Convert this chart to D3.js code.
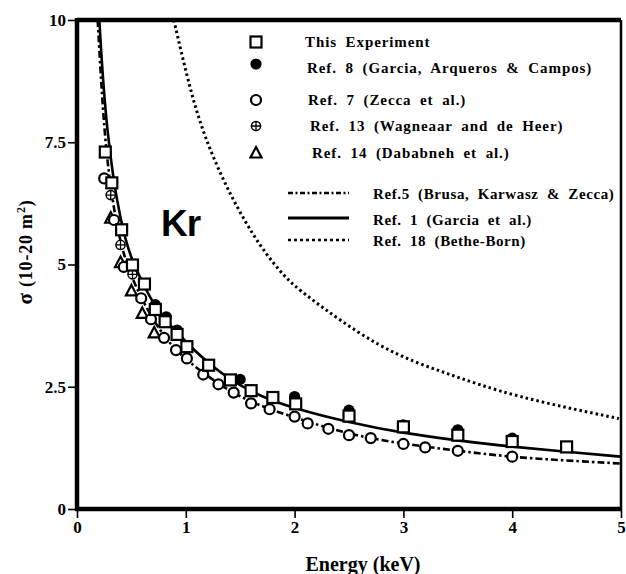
<!DOCTYPE html>
<html>
<head>
<meta charset="utf-8">
<script src="https://cdn.jsdelivr.net/npm/d3@7"></script>
<style>
  body { margin: 0; background: #fff; }
  svg text { font-weight: bold; fill: #000; }
</style>
</head>
<body>
<div id="chart"></div>
<script>
// This Experiment (squares)
var exp_e = [0.26, 0.32, 0.41, 0.51, 0.62, 0.72, 0.81, 0.92, 1.01, 1.21, 1.41, 1.60, 1.80, 2.01, 2.50, 3.00, 3.50, 4.00, 4.50];
var exp_s = [7.30, 6.67, 5.71, 4.99, 4.60, 4.08, 3.83, 3.57, 3.32, 2.94, 2.64, 2.42, 2.28, 2.15, 1.90, 1.68, 1.51, 1.38, 1.27];

// Ref. 8 (filled circles)
var ref8_e = [0.72, 0.82, 0.92, 1.50, 2.00, 2.50, 3.00, 3.50, 4.00];
var ref8_s = [4.18, 3.93, 3.66, 2.65, 2.30, 2.02, 1.72, 1.62, 1.45];

// Ref. 7 (open circles)
var ref7_e = [0.25, 0.34, 0.43, 0.59, 0.68, 0.80, 0.91, 1.01, 1.16, 1.30, 1.44, 1.60, 1.77, 2.00, 2.12, 2.31, 2.50, 2.70, 3.00, 3.20, 3.50, 4.00];
var ref7_s = [6.76, 5.91, 4.95, 4.31, 3.88, 3.50, 3.25, 3.08, 2.75, 2.55, 2.38, 2.16, 2.04, 1.89, 1.75, 1.64, 1.51, 1.45, 1.33, 1.26, 1.19, 1.07];

// Ref. 13 (crossed circles)
var ref13_e = [0.31, 0.40, 0.51];
var ref13_s = [6.42, 5.40, 4.80];

// Ref. 14 (triangles)
var ref14_e = [0.31, 0.40, 0.50, 0.60, 0.71];
var ref14_s = [5.95, 5.04, 4.46, 4.00, 3.60];

// curves
var garcia_e = [0.205, 0.266, 0.40, 0.51, 0.60, 0.71, 0.92, 1.23, 1.61, 2.00, 2.50, 3.00, 3.50, 4.00, 4.50, 5.00];
var garcia_s = [10, 7.75, 5.80, 5.05, 4.65, 4.14, 3.59, 2.91, 2.36, 2.05, 1.77, 1.55, 1.40, 1.27, 1.17, 1.07];

var brusa_e = [0.19, 0.25, 0.33, 0.43, 0.60, 0.80, 1.00, 1.30, 1.60, 2.00, 2.50, 3.00, 3.50, 4.00, 4.50, 5.00];
var brusa_s = [10, 7.60, 6.20, 5.10, 4.25, 3.50, 3.05, 2.55, 2.17, 1.87, 1.52, 1.33, 1.19, 1.06, 0.99, 0.93];

var bethe_e = [0.89, 1.02, 1.16, 1.41, 1.69, 1.92, 2.06, 2.79, 3.40, 4.01, 4.98];
var bethe_s = [10, 8.75, 7.65, 6.39, 5.33, 4.72, 4.44, 3.25, 2.77, 2.30, 1.85];

var x_ticks = [0, 1, 2, 3, 4, 5];
var y_ticks = [0, 2.5, 5, 7.5, 10];

var marker_labels = ['This Experiment', 'Ref. 8 (Garcia, Arqueros & Campos)', 'Ref. 7 (Zecca et al.)',
	'Ref. 13 (Wagneaar and de Heer)', 'Ref. 14 (Dababneh et al.)'];
var line_labels = ['Ref.5 (Brusa, Karwasz & Zecca)', 'Ref. 1 (Garcia et al.)', 'Ref. 18 (Bethe-Born)'];

function zip(a, b) {
	return a.map(function(v, i){ return { e: v, s: b[i] }; });
}

var serif = '"Liberation Serif", "Times New Roman", serif';

var chart_width = 626;
var chart_height = 574;

var svg = d3.select('#chart')
	.append('svg')
	.attr('width', chart_width)
	.attr('height', chart_height)
	.style('font-family', serif);

var x_scale = d3.scaleLinear().domain([0, 5]).range([77, 621]);
var y_scale = d3.scaleLinear().domain([0, 10]).range([509, 20]);

// axes
var x_axis = d3.axisBottom(x_scale).tickValues(x_ticks).tickSize(9).tickPadding(3).tickFormat(d3.format('d'));
var y_axis = d3.axisLeft(y_scale).tickValues(y_ticks).tickSize(9).tickPadding(2).tickFormat(function(d){ return String(d); });

var gx = svg.append('g')
	.attr('transform', 'translate(0,' + y_scale(0) + ')')
	.call(x_axis);
var gy = svg.append('g')
	.attr('transform', 'translate(' + x_scale(0) + ',0)')
	.call(y_axis);

[gx, gy].forEach(function(g){
	g.attr('font-family', null).attr('font-size', null);
	g.select('.domain').remove();
	g.selectAll('.tick line').attr('stroke', '#000').attr('stroke-width', 1.6);
	g.selectAll('.tick text').style('font-size', '17px').style('font-family', serif).attr('fill', '#000');
});

// clip for curves
svg.append('clipPath').attr('id', 'plot-clip')
	.append('rect')
	.attr('x', x_scale(0)).attr('y', y_scale(10))
	.attr('width', x_scale(5) - x_scale(0)).attr('height', y_scale(0) - y_scale(10));

var line = d3.line()
	.x(function(d){ return x_scale(d.e); })
	.y(function(d){ return y_scale(d.s); })
	.curve(d3.curveBasis);

var curves = svg.append('g').attr('clip-path', 'url(#plot-clip)');

curves.append('path').datum(zip(bethe_e, bethe_s))
	.attr('d', line).attr('fill', 'none').attr('stroke', '#000')
	.attr('stroke-width', 3).attr('stroke-dasharray', '2.5,3');

curves.append('path').datum(zip(brusa_e, brusa_s))
	.attr('d', line).attr('fill', 'none').attr('stroke', '#000')
	.attr('stroke-width', 2.6).attr('stroke-dasharray', '7,3,2.5,3');

curves.append('path').datum(zip(garcia_e, garcia_s))
	.attr('d', line).attr('fill', 'none').attr('stroke', '#000')
	.attr('stroke-width', 2.6);

// frame
svg.append('line').attr('x1', x_scale(0)).attr('x2', x_scale(5)).attr('y1', y_scale(10)).attr('y2', y_scale(10))
	.attr('stroke', '#000').attr('stroke-width', 4.5);
svg.append('line').attr('x1', x_scale(5)).attr('x2', x_scale(5)).attr('y1', y_scale(10)).attr('y2', y_scale(0))
	.attr('stroke', '#000').attr('stroke-width', 2.5);
svg.append('line').attr('x1', x_scale(0) - 2).attr('x2', x_scale(5)).attr('y1', y_scale(0)).attr('y2', y_scale(0))
	.attr('stroke', '#000').attr('stroke-width', 4.5);
svg.append('line').attr('x1', x_scale(0)).attr('x2', x_scale(0)).attr('y1', y_scale(10) - 2).attr('y2', y_scale(0) + 2)
	.attr('stroke', '#000').attr('stroke-width', 4.5);

// marker drawing
function draw_marker(g, type, cx, cy) {
	if (type === 'square') {
		g.append('rect').attr('x', cx - 5.5).attr('y', cy - 5.5).attr('width', 11).attr('height', 11)
			.attr('fill', '#fff').attr('stroke', '#000').attr('stroke-width', 2.2);
	} else if (type === 'filled') {
		g.append('circle').attr('cx', cx).attr('cy', cy).attr('r', 5.6).attr('fill', '#000');
	} else if (type === 'open') {
		g.append('circle').attr('cx', cx).attr('cy', cy).attr('r', 5).attr('fill', '#fff')
			.attr('stroke', '#000').attr('stroke-width', 2.2);
	} else if (type === 'cross') {
		g.append('circle').attr('cx', cx).attr('cy', cy).attr('r', 4.6).attr('fill', '#fff')
			.attr('stroke', '#000').attr('stroke-width', 1.5);
		g.append('path').attr('d', 'M' + (cx - 4.6) + ',' + cy + 'H' + (cx + 4.6) + 'M' + cx + ',' + (cy - 4.6) + 'V' + (cy + 4.6))
			.attr('stroke', '#000').attr('stroke-width', 1.3);
	} else if (type === 'tri') {
		g.append('path').attr('d', 'M' + cx + ',' + (cy - 6) + 'L' + (cx + 5.5) + ',' + (cy + 4.5) + 'L' + (cx - 5.5) + ',' + (cy + 4.5) + 'Z')
			.attr('fill', '#fff').attr('stroke', '#000').attr('stroke-width', 2.2).attr('stroke-linejoin', 'miter');
	}
}

var sets = [
	{ type: 'filled', data: zip(ref8_e, ref8_s) },
	{ type: 'tri', data: zip(ref14_e, ref14_s) },
	{ type: 'open', data: zip(ref7_e, ref7_s) },
	{ type: 'cross', data: zip(ref13_e, ref13_s) },
	{ type: 'square', data: zip(exp_e, exp_s) }
];

var marks = svg.append('g');
sets.forEach(function(set){
	set.data.forEach(function(d){
		draw_marker(marks, set.type, x_scale(d.e), y_scale(d.s));
	});
});

// legend - markers
var legend = svg.append('g');
var marker_types = ['square', 'filled', 'open', 'cross', 'tri'];
var marker_rows = [42, 68, 100, 126, 153];
var marker_text_x = [305, 307, 308, 310, 312];
marker_labels.forEach(function(lbl, i){
	draw_marker(legend, marker_types[i], 256, marker_rows[i] - (i === 1 ? 4 : 0));
	legend.append('text')
		.attr('x', marker_text_x[i]).attr('y', marker_rows[i] + 5)
		.style('font-size', '15px').style('letter-spacing', '0.9px').style('word-spacing', '4px')
		.text(lbl);
});

// legend - lines
var line_rows = [193, 218, 240];
var line_dash = ['5,2.5,2,2.5', null, '3,3'];
line_labels.forEach(function(lbl, i){
	var l = legend.append('line')
		.attr('x1', 288).attr('x2', 349).attr('y1', line_rows[i]).attr('y2', line_rows[i])
		.attr('stroke', '#000').attr('stroke-width', i === 1 ? 3 : 2.6);
	if (line_dash[i]) l.attr('stroke-dasharray', line_dash[i]);
	legend.append('text')
		.attr('x', 373).attr('y', line_rows[i] + 6 + (i === 1 ? 1 : 0))
		.style('font-size', '15px').style('letter-spacing', '0.6px').style('word-spacing', '4px')
		.text(lbl);
});

// Kr label
svg.append('text')
	.attr('x', 161).attr('y', 236)
	.style('font-family', '"Liberation Sans", Arial, sans-serif')
	.style('font-size', '37px')
	.style('letter-spacing', '-1px')
	.text('Kr');

// axis titles
svg.append('text')
	.attr('x', 363).attr('y', 571)
	.attr('text-anchor', 'middle')
	.style('font-size', '20px')
	.text('Energy (keV)');

var yt = svg.append('text')
	.attr('transform', 'translate(32,252) rotate(-90)')
	.attr('text-anchor', 'middle')
	.style('font-size', '18px')
	.style('letter-spacing', '0.8px');
yt.append('tspan').style('font-size', '21px').text('σ');
yt.append('tspan').text(' (10-20 m');
yt.append('tspan').attr('dy', -7).style('font-size', '12px').text('2');
yt.append('tspan').attr('dy', 7).text(')');
</script>
</body>
</html>
